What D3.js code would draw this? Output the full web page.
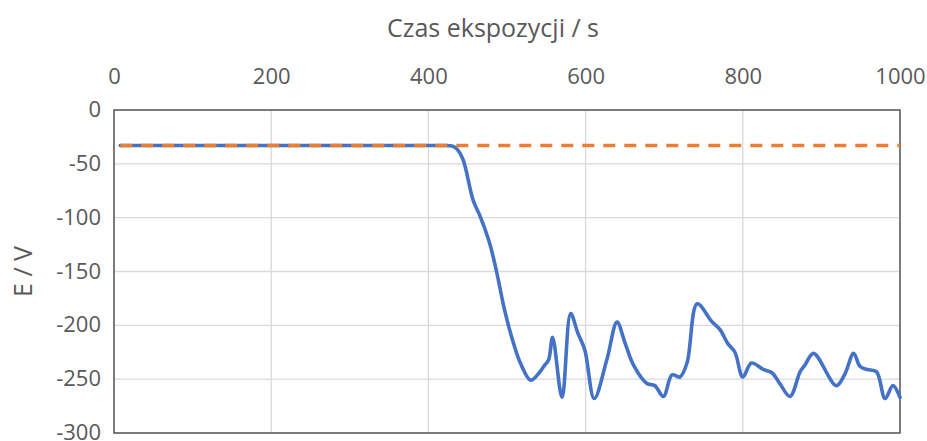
<!DOCTYPE html>
<html><head><meta charset="utf-8">
<script src="https://cdn.jsdelivr.net/npm/d3@7"></script>
<style>body{margin:0;background:#fff;} svg{display:block;}</style>
</head><body>
<svg id="c" width="927" height="441"></svg>
<script>
const xTicks = [0, 200, 400, 600, 800, 1000];
const yTicks = [0, -50, -100, -150, -200, -250, -300];
const xTitle = "Czas ekspozycji / s";
const yTitle = "E / V";
// blue series: time (s), potential (V)
const seriesTime = [8, 100, 200, 300, 400, 420, 430, 436, 444, 457, 466, 478, 487, 497, 508, 517, 530, 540, 548, 553, 558, 570, 581, 590, 599, 611, 627, 640, 650, 661, 678, 688, 699, 710, 720, 729, 742, 760, 771, 781, 790, 800, 811, 826, 837, 847, 860, 873, 879, 890, 919, 930, 941, 949, 958, 970, 981, 991, 1000];
const seriesE    = [-33, -33, -33, -33, -33, -33, -33.5, -36, -46, -84, -99, -124, -151, -186, -216, -235, -251, -245, -237, -232, -211, -267, -189, -207, -223, -268, -232, -197, -216, -237, -254, -256, -266, -246, -248, -235, -180, -196, -204, -217, -225, -248, -235, -241, -244, -254, -266, -243, -237, -226, -256, -245, -226, -238, -241, -243, -268, -256, -267];
// orange reference series
const refTime = [8, 1000];
const refE = [-33, -33];

const svg = d3.select("#c");
const m = {left: 114, right: 900, top: 110, bottom: 433};
const x = d3.scaleLinear().domain([0, 1000]).range([m.left, m.right]);
const y = d3.scaleLinear().domain([0, -300]).range([m.top, m.bottom]);
const font = "'Open Sans', 'Segoe UI', sans-serif";
const txt = "#595959";

// gridlines
svg.append("g").selectAll("line.v").data(xTicks).join("line")
  .attr("x1", d => x(d)).attr("x2", d => x(d)).attr("y1", m.top).attr("y2", m.bottom)
  .attr("stroke", "#d9d9d9").attr("stroke-width", 1.3);
svg.append("g").selectAll("line.h").data(yTicks).join("line")
  .attr("x1", m.left).attr("x2", m.right).attr("y1", d => y(d)).attr("y2", d => y(d))
  .attr("stroke", "#d9d9d9").attr("stroke-width", 1.3);

// axes via d3
const xAxis = svg.append("g").attr("transform", `translate(0,${m.top})`)
  .call(d3.axisTop(x).tickValues(xTicks).tickSize(0).tickPadding(26).tickFormat(d3.format("d")));
const yAxis = svg.append("g").attr("transform", `translate(${m.left},0)`)
  .call(d3.axisLeft(y).tickValues(yTicks).tickSize(0).tickPadding(13).tickFormat(d => d3.format("d")(d).replace("−", "-")));
[xAxis, yAxis].forEach(a => {
  a.select(".domain").remove();
  a.selectAll("text").attr("font-family", font).attr("font-size", 22).attr("fill", txt);
});
yAxis.selectAll("text").attr("dy", "0.3em");

// plot border
svg.append("rect").attr("x", m.left).attr("y", m.top)
  .attr("width", m.right - m.left).attr("height", m.bottom - m.top)
  .attr("fill", "none").attr("stroke", "#595959").attr("stroke-width", 1.5);

// lines
const line = d3.line().x(d => x(d[0])).y(d => y(d[1])).curve(d3.curveCatmullRom.alpha(0.5));
svg.append("path").datum(d3.zip(seriesTime, seriesE)).attr("d", line)
  .attr("fill", "none").attr("stroke", "#4472C4").attr("stroke-width", 3.6)
  .attr("stroke-linejoin", "round").attr("stroke-linecap", "round");
svg.append("path").datum(d3.zip(refTime, refE)).attr("d", d3.line().x(d => x(d[0])).y(d => y(d[1])))
  .attr("fill", "none").attr("stroke", "#ED7D31").attr("stroke-width", 3.6)
  .attr("stroke-dasharray", "12,9");

// titles
svg.append("text").attr("x", 493).attr("y", 37).attr("text-anchor", "middle")
  .attr("font-family", font).attr("font-size", 25).attr("fill", txt).text(xTitle);
svg.append("text").attr("transform", `translate(32,${(m.top + m.bottom) / 2}) rotate(-90)`)
  .attr("text-anchor", "middle").attr("font-family", font).attr("font-size", 25).attr("fill", txt).text(yTitle);
</script>
</body></html>
